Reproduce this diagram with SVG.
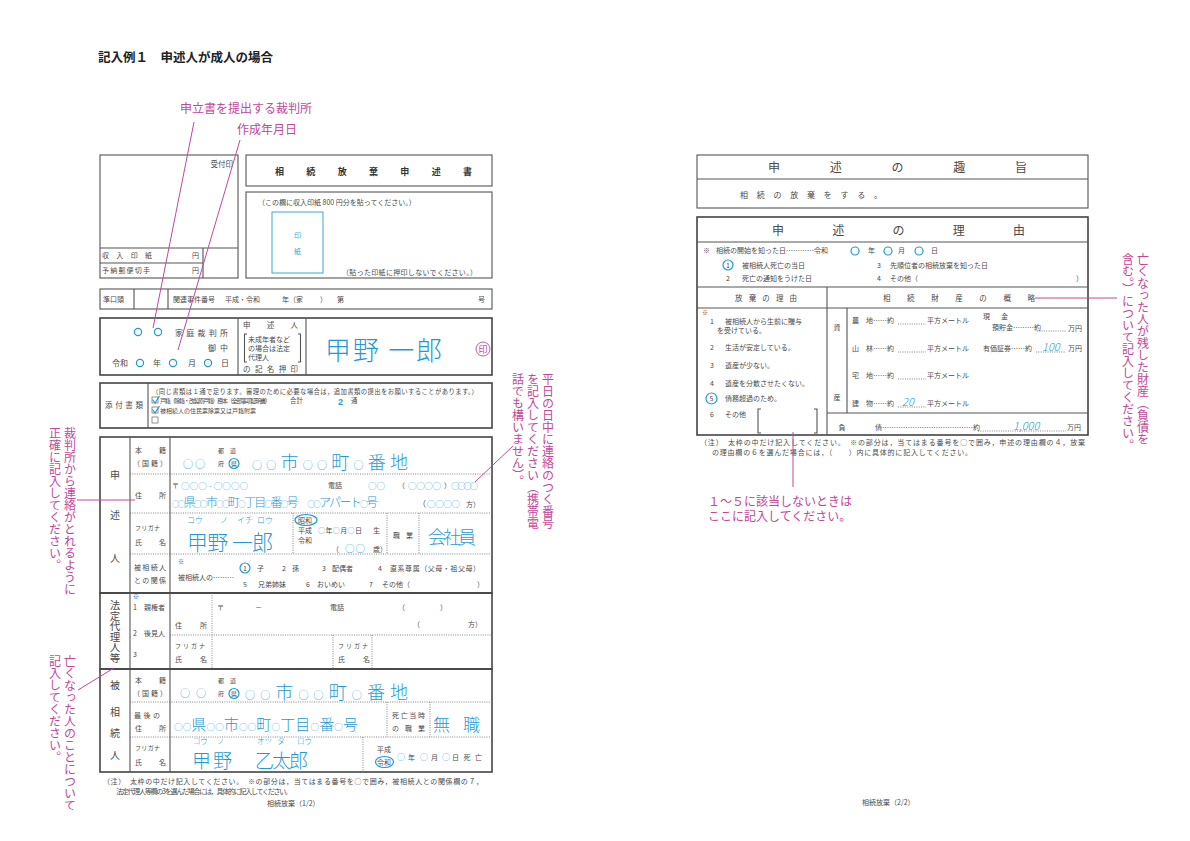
<svg xmlns="http://www.w3.org/2000/svg" width="1190" height="841" viewBox="0 0 1190 841">
<style>
text{font-family:"Noto Sans CJK JP","Noto Sans CJK SC",sans-serif;fill:#4a4a4a;font-size:7px}
.ln{stroke:#555;stroke-width:1.1;fill:none}
.bk{stroke:#444;stroke-width:1.6;fill:none}
.dt{stroke:#666;stroke-width:0.8;fill:none;stroke-dasharray:1 1.3}
.cy{fill:#1f9ad6;font-weight:300}
.cs{stroke:#1f9ad6;stroke-width:1.2;fill:none}
.mg{fill:#c2489a;font-size:12px}
.ml{stroke:#c2489a;stroke-width:1;fill:none}
.v{writing-mode:vertical-rl}
.s6{font-size:6px}
.s8{font-size:8px}
.ttl{font-size:12px}
</style>
<rect width="1190" height="841" fill="#fff"/>

<text x="98" y="62" style="font-size:12.5px;font-weight:bold;fill:#222">記入例１　申述人が成人の場合</text>

<!-- LEFT PAGE -->
<g id="uketsuke">
<rect class="ln" x="100" y="155" width="138" height="123"/>
<path class="ln" d="M100,248H238M100,263H203M203,248V278"/>
<text x="233" y="167" text-anchor="end" style="font-size:7.5px">受付印</text>
<text x="102" y="258" textLength="50">収入印紙</text><text x="192" y="258">円</text>
<text x="102" y="273" textLength="48">予納郵便切手</text><text x="192" y="273">円</text>
</g>
<g id="title-box">
<rect class="ln" x="246" y="155" width="246" height="31"/>
<text x="275" y="175" textLength="197" style="font-size:9px;font-weight:bold;fill:#333">相続放棄申述書</text>
</g>
<g id="stamp-box">
<rect class="ln" x="246" y="192" width="246" height="86"/>
<text x="258" y="205">（この欄に収入印紙 800 円分を貼ってください。）</text>
<rect x="272" y="212" width="51" height="61" fill="none" stroke="#3aa6d8" stroke-width="1"/>
<text x="297.5" y="238" text-anchor="middle" style="fill:#3aa6d8">印</text>
<text x="297.5" y="254" text-anchor="middle" style="fill:#3aa6d8">紙</text>
<text x="342" y="275" textLength="135">（貼った印紙に押印しないでください。）</text>
</g>
<g id="jun-row">
<rect class="ln" x="100" y="289" width="392" height="20"/>
<path class="ln" d="M134,289V309M168,289V309"/>
<text x="103" y="302">準口頭</text>
<text x="173" y="302">関連事件番号</text><text x="225" y="302">平成・令和</text>
<text x="282" y="302">年（家</text><text x="320" y="302">）</text><text x="337" y="302">第</text>
<text x="478" y="302">号</text>
</g>
<g id="court-box">
<rect class="bk" x="100" y="318" width="392" height="57"/>
<path class="ln" d="M238,318V375M306,318V375"/>
<circle class="cs" cx="138" cy="332" r="3.6"/><circle class="cs" cx="158" cy="332" r="3.6"/>
<text x="175" y="336" textLength="53" class="s8">家庭裁判所</text>
<text x="208" y="351" textLength="20" class="s8">御中</text>
<text x="112" y="366" class="s8">令和</text>
<circle class="cs" cx="140" cy="363" r="3.6"/><text x="153" y="366" class="s8">年</text>
<circle class="cs" cx="173" cy="363" r="3.6"/><text x="188" y="366" class="s8">月</text>
<circle class="cs" cx="208" cy="363" r="3.6"/><text x="221" y="366" class="s8">日</text>
<text x="243" y="328" textLength="55" style="font-size:7.5px">申述人</text>
<text x="248" y="342" style="font-size:7px">未成年者など</text>
<text x="248" y="351" style="font-size:7px">の場合は法定</text>
<text x="248" y="360" style="font-size:7px">代理人</text>
<path class="ln" d="M247,334h-2.5v28h2.5M298,334h2.5v28h-2.5" stroke-width="0.9"/>
<text x="243" y="372" textLength="55" style="font-size:7.5px">の記名押印</text>
<text x="325" y="360" textLength="117" class="cy" style="font-size:26px">甲野 一郎</text>
<circle cx="483" cy="349" r="7" fill="none" stroke="#c2489a" stroke-width="0.9"/>
<text x="483" y="352.5" text-anchor="middle" style="font-size:9px;fill:#c2489a">印</text>
</g>
<g id="attach-box">
<rect class="bk" x="100" y="383" width="392" height="45"/>
<path class="ln" d="M148,383V428"/>
<text x="105" y="408" textLength="38" style="font-size:7.5px">添付書類</text>
<text x="152" y="394" textLength="326" style="font-size:6.4px">（同じ書類は１通で足ります。審理のために必要な場合は，追加書類の提出をお願いすることがあります。）</text>
<rect x="152" y="397" width="6" height="6" fill="none" stroke="#666" stroke-width="0.7"/>
<path class="cs" d="M152.5,399.5l2.5,3.5l4.5,-7"/>
<text x="160" y="403" textLength="111" style="font-size:6px">戸籍（除籍・改製原戸籍）謄本（全部事項証明書）</text>
<text x="290" y="403" style="font-size:6.4px">合計</text>
<text x="338" y="405" class="cy" style="font-family:'Liberation Sans',sans-serif;font-size:9px;font-weight:bold">2</text>
<text x="351" y="403" style="font-size:6.4px">通</text>
<rect x="152" y="407" width="6" height="6" fill="none" stroke="#666" stroke-width="0.7"/>
<path class="cs" d="M152.5,409.5l2.5,3.5l4.5,-7"/>
<text x="160" y="413" style="font-size:6px">被相続人の住民票除票又は戸籍附票</text>
<rect x="152" y="417" width="6" height="6" fill="none" stroke="#666" stroke-width="0.7"/>
</g>
<g id="applicant-box">
<rect class="bk" x="100" y="437" width="392" height="156"/>
<path class="ln" d="M130,437V593M170,437V593"/>
<path class="dt" d="M130,474H492M130,513H492M130,554H492M293,513V554M387,513V554M419,513V554"/>
<text x="115" y="479" text-anchor="middle" style="font-size:10px">申</text>
<text x="115" y="519" text-anchor="middle" style="font-size:10px">述</text>
<text x="115" y="562" text-anchor="middle" style="font-size:10px">人</text>
<text x="135" y="453" textLength="31">本籍</text>
<text x="133" y="466" textLength="34">（国籍）</text>
<text x="218" y="453" textLength="18" class="s6">都道</text>
<text x="218" y="466" class="s6">府</text>
<circle class="cs" cx="234" cy="463.5" r="5"/>
<text x="231" y="466" class="s6">県</text>
<text x="183" y="468" class="cy" style="font-size:10px" textLength="22">○○</text>
<text x="252" y="469" class="cy" style="font-size:18px" textLength="156"><tspan style="font-size:10px">○○</tspan>市<tspan style="font-size:10px">○○</tspan>町<tspan style="font-size:10px">○</tspan>番地</text>
<text x="135" y="498" textLength="31">住所</text>
<text x="172" y="488">〒</text>
<text x="181" y="489" class="cy" style="font-size:8.5px" textLength="67">○○○ - ○○○○</text>
<text x="328" y="488">電話</text>
<text x="368" y="489" class="cy" style="font-size:8.5px" textLength="17">○○</text>
<text x="398" y="488">（</text>
<text x="408" y="489" class="cy" style="font-size:8.5px" textLength="33">○○○○</text>
<text x="444" y="488">）</text>
<text x="451" y="489" class="cy" style="font-size:8.5px" textLength="27">○○○○</text>
<text x="172" y="507" class="cy" style="font-size:12px" textLength="206"><tspan style="font-size:7.5px">○○</tspan>県<tspan style="font-size:7.5px">○○</tspan>市<tspan style="font-size:7.5px">○○</tspan>町<tspan style="font-size:7.5px">○</tspan>丁目<tspan style="font-size:7.5px">○</tspan>番<tspan style="font-size:7.5px">○</tspan>号　<tspan style="font-size:7.5px">○○</tspan>アパート<tspan style="font-size:7.5px">○</tspan>号</text>
<text x="418" y="507" class="s8">（</text>
<text x="427" y="507" class="cy" style="font-size:8.5px" textLength="33">○○○○</text>
<text x="466" y="507">方）</text>
<text x="135" y="530" class="s6" textLength="25">フリガナ</text>
<text x="135" y="545" textLength="31">氏名</text>
<text x="187" y="523" class="cy" style="font-size:8px">コウ</text>
<text x="220" y="523" class="cy" style="font-size:8px">ノ</text>
<text x="237" y="523" class="cy" style="font-size:8px">イチ</text>
<text x="257" y="523" class="cy" style="font-size:8px">ロウ</text>
<text x="187" y="550" class="cy" style="font-size:21px" textLength="86">甲野 一郎</text>
<ellipse class="cs" cx="306" cy="520" rx="11" ry="5.5"/>
<text x="298" y="523">昭和</text>
<text x="298" y="533">平成</text>
<text x="318" y="533" textLength="44"><tspan class="cy">○</tspan>年<tspan class="cy">○</tspan>月<tspan class="cy">○</tspan>日</text>
<text x="373" y="533">生</text>
<text x="298" y="543">令和</text>
<text x="332" y="552">（</text>
<text x="345" y="552" class="cy" style="font-size:9.5px" textLength="20">○○</text>
<text x="373" y="552">歳）</text>
<text x="393" y="538" textLength="20">職業</text>
<text x="428" y="544" class="cy" style="font-size:18px" textLength="48">会社員</text>
<text x="134" y="570" textLength="32">被相続人</text>
<text x="134" y="583" textLength="32">との関係</text>
<text x="178" y="564" class="s6">※</text>
<text x="178" y="580">被相続人の………</text>
<circle class="cs" cx="245" cy="568" r="5"/>
<text x="245" y="571" text-anchor="middle">1</text>
<text x="257" y="571">子</text>
<text x="282" y="571">2</text><text x="292" y="571">孫</text>
<text x="322" y="571">3</text><text x="332" y="571">配偶者</text>
<text x="378" y="571">4</text><text x="390" y="571" textLength="90">直系尊属（父母・祖父母）</text>
<text x="243" y="587">5</text><text x="258" y="587">兄弟姉妹</text>
<text x="306" y="587">6</text><text x="317" y="587">おいめい</text>
<text x="369" y="587">7</text><text x="382" y="587">その他（</text>
<text x="477" y="587">）</text>
</g>
<g id="agent-box">
<rect class="bk" x="100" y="593" width="392" height="76"/>
<path class="ln" d="M130,593V669M170,593V669"/>
<path class="dt" d="M170,635H492M212,593V669M333,635V669M372,635V669"/>
<text x="115" y="600" class="v" style="font-size:10.5px">法定代理人等</text>
<text x="133" y="599" class="s6">※</text>
<text x="133" y="610">1　親権者</text>
<text x="133" y="636">2　後見人</text>
<text x="133" y="657">3</text>
<text x="175" y="628" textLength="32">住所</text>
<text x="217" y="610">〒</text><text x="255" y="610">－</text>
<text x="330" y="610">電話</text>
<text x="398" y="610">（</text><text x="440" y="610">）</text>
<text x="413" y="627">（</text><text x="468" y="627">方）</text>
<text x="175" y="648" class="s6" textLength="30">フリガナ</text>
<text x="175" y="662" textLength="32">氏名</text>
<text x="338" y="648" class="s6" textLength="30">フリガナ</text>
<text x="338" y="662" textLength="32">氏名</text>
</g>
<g id="deceased-box">
<rect class="bk" x="100" y="669" width="392" height="103"/>
<path class="ln" d="M130,669V772M170,669V772"/>
<path class="dt" d="M130,702H492M130,737H492M387,702V737M430,702V737M363,737V772"/>
<text x="115" y="689" text-anchor="middle" style="font-size:10px">被</text>
<text x="115" y="716" text-anchor="middle" style="font-size:10px">相</text>
<text x="115" y="737" text-anchor="middle" style="font-size:10px">続</text>
<text x="115" y="759" text-anchor="middle" style="font-size:10px">人</text>
<text x="135" y="683" textLength="31">本籍</text>
<text x="133" y="696" textLength="34">（国籍）</text>
<text x="218" y="683" textLength="18" class="s6">都道</text>
<text x="218" y="696" class="s6">府</text>
<circle class="cs" cx="234" cy="693.5" r="5"/>
<text x="231" y="696" class="s6">県</text>
<text x="180" y="697" class="cy" style="font-size:10px" textLength="26">○○</text>
<text x="245" y="699" class="cy" style="font-size:18px" textLength="163"><tspan style="font-size:10px">○○</tspan>市<tspan style="font-size:10px">○○</tspan>町<tspan style="font-size:10px">○</tspan>番地</text>
<text x="134" y="718" textLength="26">最後の</text>
<text x="135" y="731" textLength="31">住所</text>
<text x="174" y="730" class="cy" style="font-size:15px" textLength="184"><tspan style="font-size:8.5px">○○</tspan>県<tspan style="font-size:8.5px">○○</tspan>市<tspan style="font-size:8.5px">○○</tspan>町<tspan style="font-size:8.5px">○</tspan>丁目<tspan style="font-size:8.5px">○</tspan>番<tspan style="font-size:8.5px">○</tspan>号</text>
<text x="392" y="718" textLength="33">死亡当時</text>
<text x="392" y="731" textLength="33">の職業</text>
<text x="433" y="731" class="cy" style="font-size:17px" textLength="47">無職</text>
<text x="135" y="750" class="s6" textLength="25">フリガナ</text>
<text x="135" y="765" textLength="31">氏名</text>
<text x="193" y="744" class="cy" style="font-size:7.5px">コウ</text>
<text x="217" y="744" class="cy" style="font-size:7.5px">ノ</text>
<text x="257" y="744" class="cy" style="font-size:7.5px">オツ</text>
<text x="277" y="744" class="cy" style="font-size:7.5px">タ</text>
<text x="297" y="744" class="cy" style="font-size:7.5px">ロウ</text>
<text x="192" y="768" class="cy" style="font-size:19px" textLength="40">甲野</text>
<text x="255" y="768" class="cy" style="font-size:19px" textLength="53">乙太郎</text>
<text x="377" y="752">平成</text>
<ellipse class="cs" cx="384.5" cy="762" rx="9" ry="5.5"/>
<text x="377" y="765">令和</text>
<text x="397" y="760" class="cy" style="font-size:8px">○</text><text x="408" y="760">年</text>
<text x="420" y="760" class="cy" style="font-size:8px">○</text><text x="431" y="760">月</text>
<text x="442" y="760" class="cy" style="font-size:8px">○</text><text x="452" y="760" textLength="30">日死亡</text>
</g>
<g id="left-notes">
<text x="103" y="784" textLength="380">（注）　太枠の中だけ記入してください。　※の部分は，当てはまる番号を○で囲み，被相続人との関係欄の７，</text>
<text x="116" y="794" textLength="176">法定代理人等欄の3を選んだ場合には，具体的に記入してください。</text>
<text x="267" y="806">相続放棄（1/2）</text>
</g>

<!-- RIGHT PAGE -->
<g id="shushi-box">
<rect class="ln" x="697" y="155" width="391" height="53"/>
<path class="ln" d="M697,179H1088"/>
<text x="768" y="172" class="ttl" textLength="259">申述の趣旨</text>
<text x="740" y="198" class="s8" textLength="142">相続の放棄をする。</text>
</g>
<g id="riyu-box">
<rect class="bk" x="697" y="217" width="391" height="218"/>
<path class="ln" d="M697,242H1088M697,287H1088M697,308H1088M827,287V435M847,308V413M827,413H1088"/>
<text x="772" y="235" class="ttl" textLength="253">申述の理由</text>
<text x="703" y="253">※</text>
<text x="716" y="253">相続の開始を知った日…………令和</text>
<circle class="cs" cx="855" cy="251" r="4"/><text x="868" y="253">年</text>
<circle class="cs" cx="888" cy="251" r="4"/><text x="898" y="253">月</text>
<circle class="cs" cx="919" cy="251" r="4"/><text x="931" y="253">日</text>
<circle class="cs" cx="728" cy="265" r="5"/><text x="728" y="268" text-anchor="middle">1</text>
<text x="742" y="268">被相続人死亡の当日</text>
<text x="877" y="268">3</text><text x="890" y="268">先順位者の相続放棄を知った日</text>
<text x="726" y="281">2</text><text x="742" y="281">死亡の通知をうけた日</text>
<text x="877" y="281">4</text><text x="890" y="281">その他（</text><text x="1076" y="281">）</text>
<text x="735" y="301" textLength="62" style="font-size:7.5px">放棄の理由</text>
<text x="883" y="301" textLength="152" style="font-size:7.5px">相続財産の概略</text>
<text x="702" y="315" class="s6">※</text>
<text x="710" y="324">1</text><text x="725" y="324">被相続人から生前に贈与</text>
<text x="717" y="333">を受けている。</text>
<text x="710" y="350">2</text><text x="725" y="350">生活が安定している。</text>
<text x="710" y="368">3</text><text x="725" y="368">遺産が少ない。</text>
<text x="710" y="386">4</text><text x="725" y="386">遺産を分散させたくない。</text>
<circle class="cs" cx="711.5" cy="398.5" r="5.5"/><text x="711.5" y="401" text-anchor="middle">5</text>
<text x="725" y="401">債務超過のため。</text>
<text x="710" y="417">6</text><text x="725" y="417">その他</text>
<path class="ln" d="M761,409h-3v24h3M814,409h3v24h-3" stroke-width="1"/>
<text x="837" y="330" text-anchor="middle">資</text>
<text x="837" y="400" text-anchor="middle">産</text>
<text x="852" y="323">農　地……約</text>
<path class="dt" d="M898,324H926M1037,331H1066M898,352H926M898,379H926M898,407H926M978,431H1066M1036,352H1066"/>
<text x="927" y="323">平方メートル</text>
<text x="983" y="319" textLength="25">現金</text>
<text x="992" y="330">預貯金………約</text>
<text x="1068" y="331">万円</text>
<text x="852" y="351">山　林……約</text>
<text x="927" y="351">平方メートル</text>
<text x="983" y="351">有価証券……約</text>
<text x="1042" y="351" class="cy" style="font-size:11px;font-style:italic">100</text>
<text x="1068" y="351">万円</text>
<text x="852" y="378">宅　地……約</text>
<text x="927" y="378">平方メートル</text>
<text x="852" y="406">建　物……約</text>
<text x="902" y="406" class="cy" style="font-size:11px;font-style:italic">20</text>
<text x="927" y="406">平方メートル</text>
<text x="842" y="430" text-anchor="middle">負</text>
<text x="875" y="430">債…………………………………約</text>
<text x="1013" y="430" class="cy" style="font-size:11px;font-style:italic">1,000</text>
<text x="1067" y="430">万円</text>
</g>
<g id="right-notes">
<text x="700" y="445" textLength="385">（注）　太枠の中だけ記入してください。　※の部分は，当てはまる番号を○で囲み，申述の理由欄の４，放棄</text>
<text x="712" y="455" textLength="260">の理由欄の６を選んだ場合には，（　　）内に具体的に記入してください。</text>
<text x="862" y="805">相続放棄（2/2）</text>
</g>

<!-- ANNOTATIONS -->
<g id="annotations">
<text x="180" y="113" class="mg">申立書を提出する裁判所</text>
<text x="237" y="134" class="mg">作成年月日</text>
<text x="70" y="427" class="mg v">裁判所から連絡がとれるように</text>
<text x="55" y="427" class="mg v">正確に記入してください。</text>
<text x="70" y="655" class="mg v">亡くなった人のことについて</text>
<text x="55" y="655" class="mg v">記入してください。</text>
<text x="548" y="373" class="mg v">平日の日中に連絡のつく番号</text>
<text x="533" y="373" class="mg v">を記入してください（携帯電</text>
<text x="518" y="373" class="mg v">話でも構いません）。</text>
<text x="708" y="506" class="mg">１～５に該当しないときは</text>
<text x="708" y="521" class="mg">ここに記入してください。</text>
<text x="1143" y="253" class="mg v">亡くなった人が残した財産（負債を</text>
<text x="1128" y="253" class="mg v">含む。）について記入してください。</text>
</g>
<g id="connectors">
<path class="ml" d="M194,122L153,328"/>
<path class="ml" d="M240,140L178,350"/>
<path class="ml" d="M77,500H135"/>
<path class="ml" d="M78,690L114,668"/>
<path class="ml" d="M513,446L475,482"/>
<path class="ml" d="M793,432V487"/>
<path class="ml" d="M1035,298H1117"/>
</g>
</svg>
